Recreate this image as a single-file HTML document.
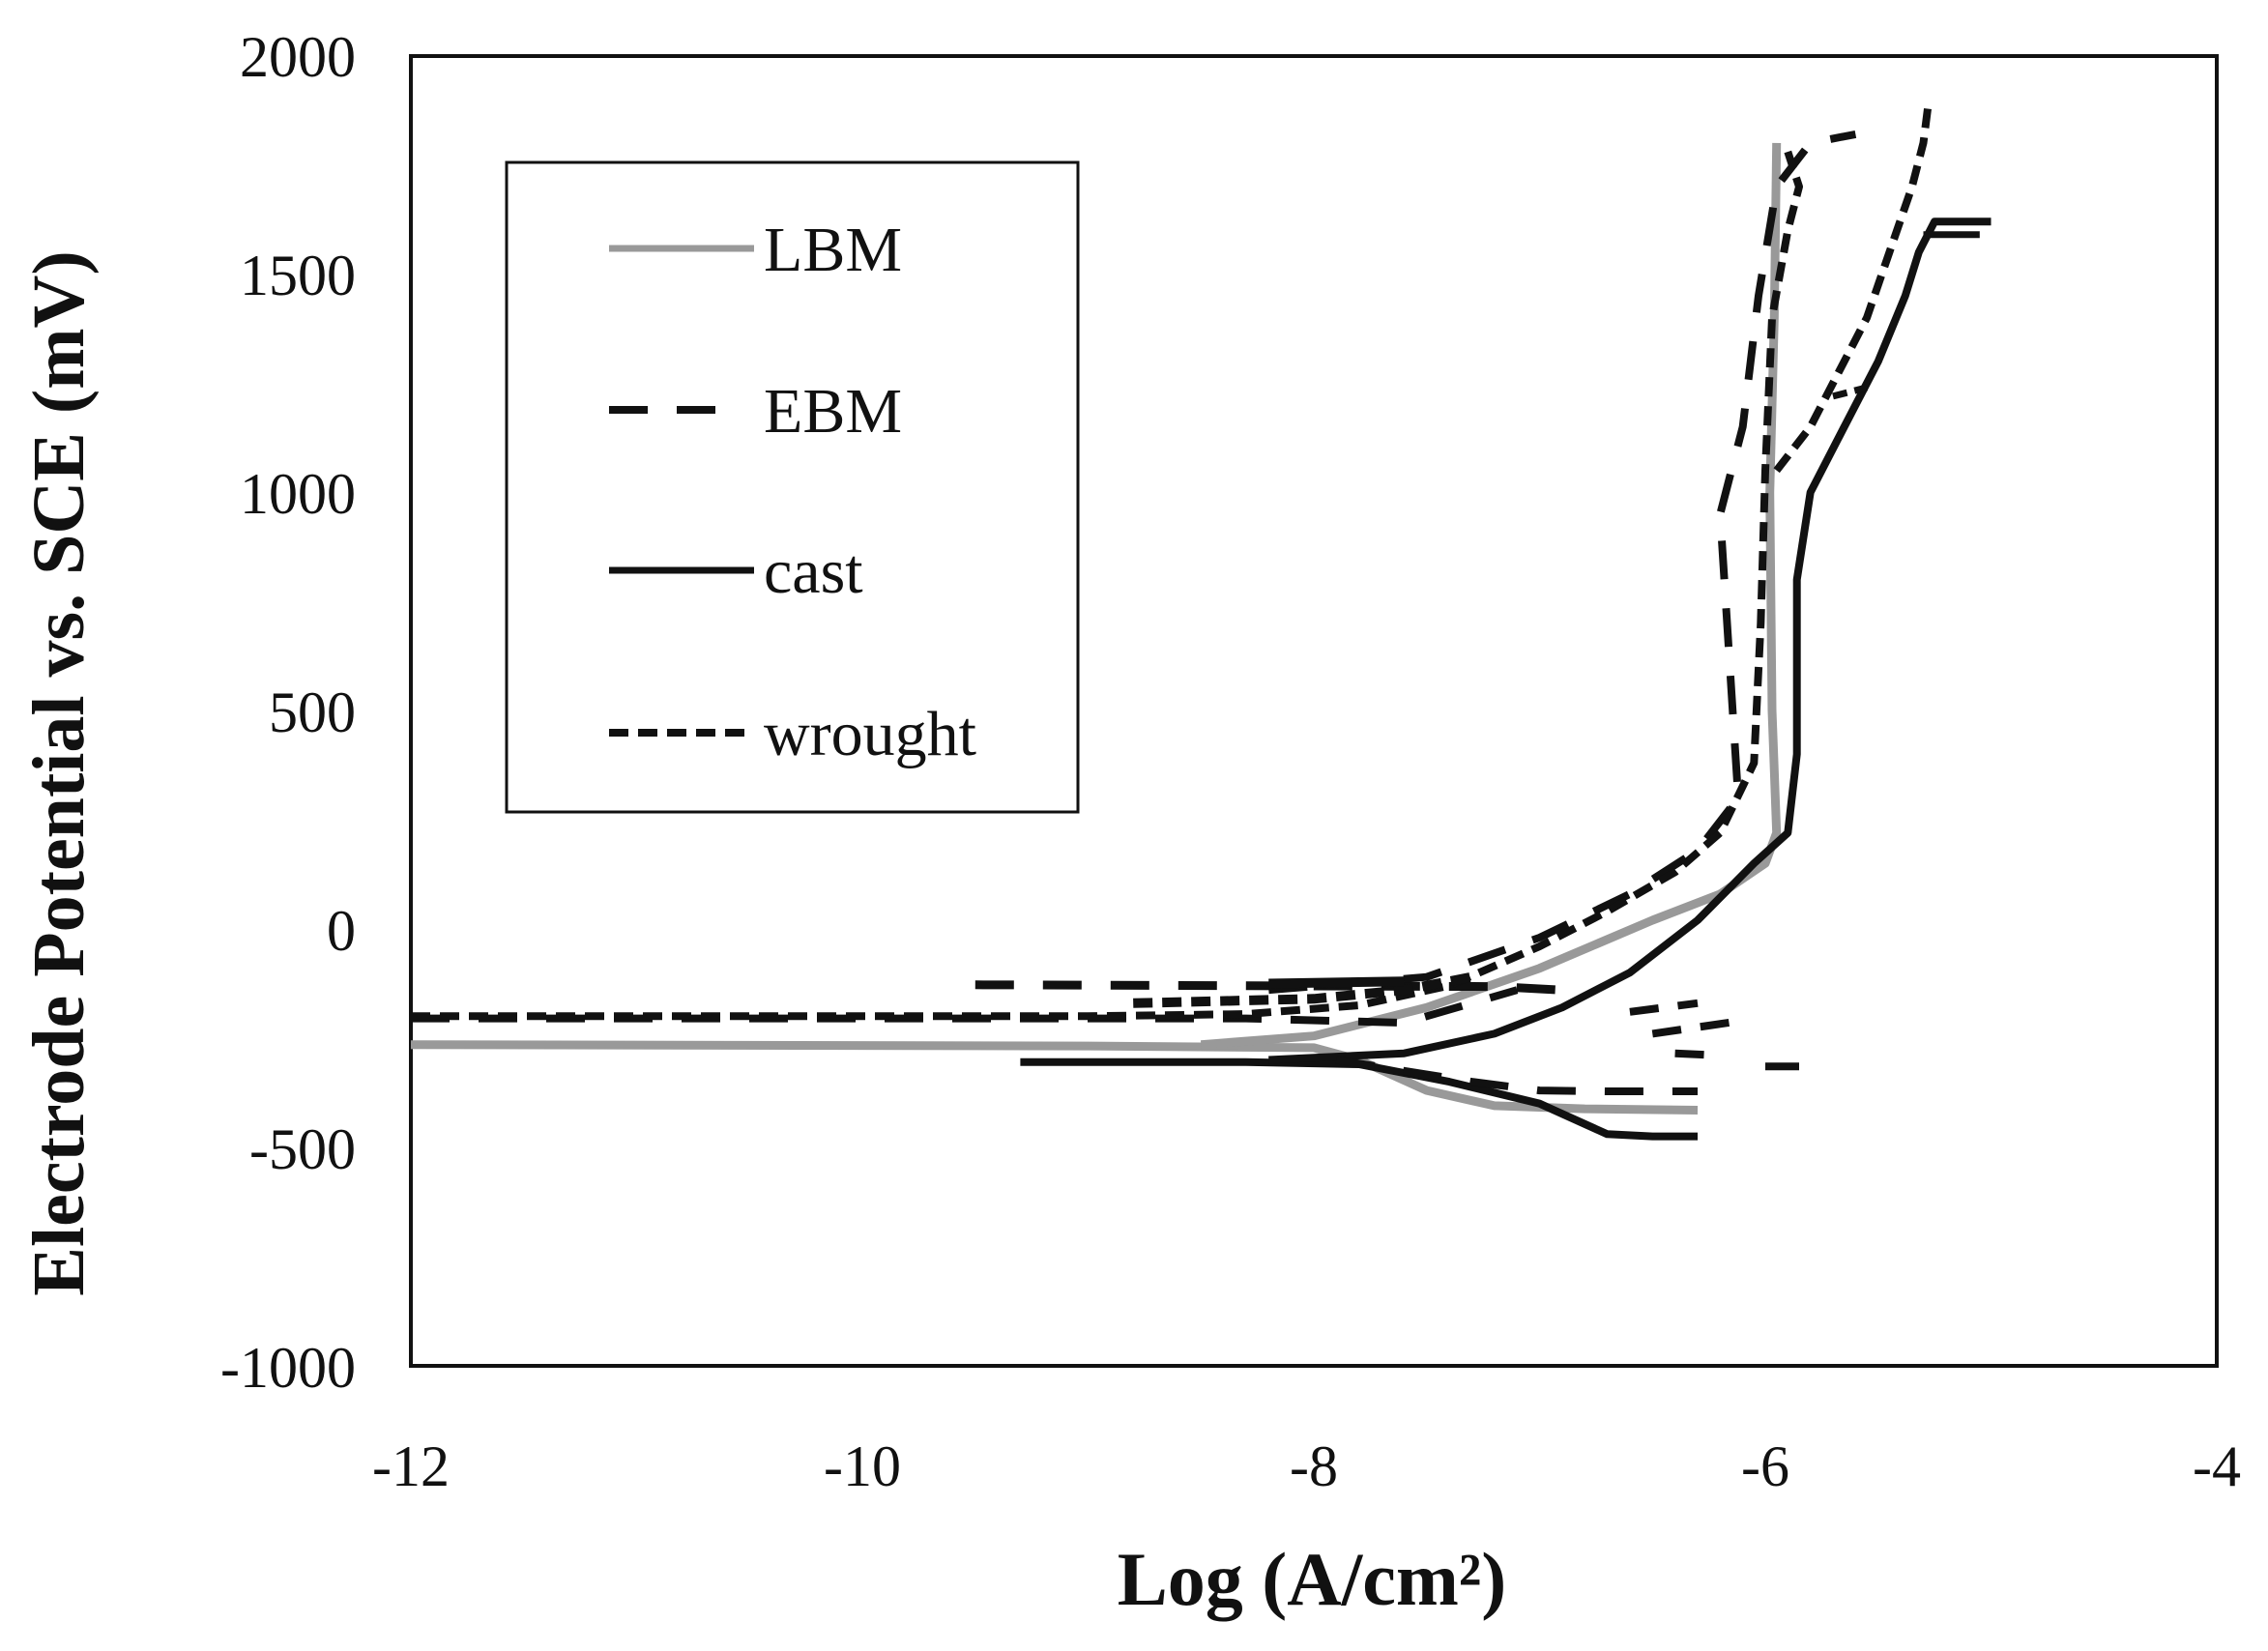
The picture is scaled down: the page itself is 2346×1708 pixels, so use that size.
<!DOCTYPE html>
<html><head><meta charset="utf-8"><style>
html,body{margin:0;padding:0;background:#fff}
svg{display:block}
text{font-family:"Liberation Serif",serif;fill:#111}
</style></head><body>
<svg id="s" width="2346" height="1708" viewBox="0 0 2346 1708" xmlns="http://www.w3.org/2000/svg">
<rect x="425" y="58" width="1868" height="1355" fill="none" stroke="#111" stroke-width="4"/>
<g font-size="60" text-anchor="end">
<text x="368" y="79">2000</text>
<text x="368" y="305">1500</text>
<text x="368" y="531">1000</text>
<text x="368" y="757">500</text>
<text x="368" y="983">0</text>
<text x="368" y="1209">-500</text>
<text x="368" y="1435">-1000</text>
</g>
<g font-size="60" text-anchor="middle">
<text x="425" y="1537">-12</text>
<text x="892" y="1537">-10</text>
<text x="1359" y="1537">-8</text>
<text x="1826" y="1537">-6</text>
<text x="2293" y="1537">-4</text>
</g>
<text x="1357" y="1660" font-size="78" font-weight="bold" text-anchor="middle">Log (A/cm²)</text>
<text transform="translate(86,800) rotate(-90)" font-size="76" font-weight="bold" text-anchor="middle">Electrode Potential vs. SCE (mV)</text>
<rect x="524" y="168" width="591" height="672" fill="none" stroke="#111" stroke-width="3"/>
<line x1="630" y1="257" x2="780" y2="257" stroke="#999" stroke-width="7"/>
<line x1="630" y1="424" x2="760" y2="424" stroke="#111" stroke-width="8" stroke-dasharray="40,30"/>
<line x1="630" y1="590" x2="780" y2="590" stroke="#111" stroke-width="7"/>
<line x1="630" y1="758" x2="780" y2="758" stroke="#111" stroke-width="8" stroke-dasharray="20,10"/>
<g font-size="66">
<text x="790" y="280">LBM</text>
<text x="790" y="447">EBM</text>
<text x="790" y="613">cast</text>
<text x="790" y="781">wrought</text>
</g>
<g id="curves" fill="none" stroke-linejoin="round" stroke-linecap="butt"></g>
</svg>
<script>
function X(v){return 3227+233.5*v}
function Y(v){return 961-0.4517*v}
function P(pts){return 'M'+pts.map(p=>X(p[0]).toFixed(1)+','+Y(p[1]).toFixed(1)).join(' L')}
var g=document.getElementById('curves');
function add(pts,col,w,dash){var e=document.createElementNS('http://www.w3.org/2000/svg','path');e.setAttribute('d',P(pts));e.setAttribute('stroke',col);e.setAttribute('stroke-width',w);if(dash)e.setAttribute('stroke-dasharray',dash);g.appendChild(e);}
// LBM
add([[-12,-265],[-9,-268],[-8,-272],[-7.8,-300],[-7.5,-370],[-7.2,-405],[-6.8,-412],[-6.3,-415]],'#999',9);
add([[-8.5,-265],[-8,-245],[-7.5,-180],[-7,-90],[-6.5,20],[-6.2,80],[-6.0,150],[-5.95,220],[-5.97,500],[-5.98,1000],[-5.96,1400],[-5.95,1800]],'#999',9);
// cast
add([[-9.3,-305],[-8.3,-305],[-7.8,-310],[-7.4,-350],[-7,-400],[-6.7,-470],[-6.5,-475],[-6.3,-475]],'#111',8);
add([[-8.2,-300],[-7.6,-285],[-7.2,-240],[-6.9,-180],[-6.6,-100],[-6.3,20],[-6.05,150],[-5.9,220],[-5.86,400],[-5.86,800],[-5.8,1000],[-5.65,1150],[-5.5,1300],[-5.38,1450],[-5.32,1550],[-5.25,1620],[-5.0,1620]],'#111',8);
add([[-5.3,1590],[-5.05,1590]],'#111',7);
// EBM
add([[-12,-205],[-8.3,-205],[-7.6,-215],[-7.1,-140]],'#111',8,'40,30');
add([[-9.5,-128],[-7.2,-132],[-6.9,-140]],'#111',9,'40,30');
add([[-7.9,-300],[-7.3,-350],[-7,-370],[-6.7,-372],[-6.3,-372]],'#111',8,'40,30');
add([[-8.2,-140],[-7.5,-110],[-7,-20],[-6.6,80],[-6.3,180],[-6.12,300],[-6.2,950],[-6.1,1150],[-6.03,1450],[-5.95,1700],[-5.8,1800],[-5.6,1820]],'#111',8,'40,30');
add([[-6.6,-190],[-6.3,-170]],'#111',8,'30,20');
add([[-6.5,-240],[-6.1,-210]],'#111',8,'30,20');
add([[-6.4,-285],[-6.2,-290]],'#111',8,'30,20');
add([[-6.0,-315],[-5.85,-315]],'#111',8);
// wrought
add([[-12,-200],[-9,-200],[-8.3,-195],[-7.8,-175],[-7.4,-130],[-7,-40],[-6.7,40],[-6.4,130],[-6.2,220],[-6.05,380],[-6.02,700],[-6.0,1050],[-5.97,1400],[-5.9,1600],[-5.85,1700],[-5.9,1780]],'#111',8,'20,10');
add([[-8.8,-170],[-8,-160],[-7.6,-140],[-7.3,-110]],'#111',10,'20,10');
add([[-8.2,-125],[-7.6,-120]],'#111',10);
add([[-5.95,1050],[-5.8,1150],[-5.65,1300],[-5.55,1400],[-5.45,1550],[-5.35,1700],[-5.3,1800],[-5.28,1880]],'#111',8,'20,10');
add([[-5.7,1220],[-5.55,1240]],'#111',7,'15,8');
</script>
</body></html>
